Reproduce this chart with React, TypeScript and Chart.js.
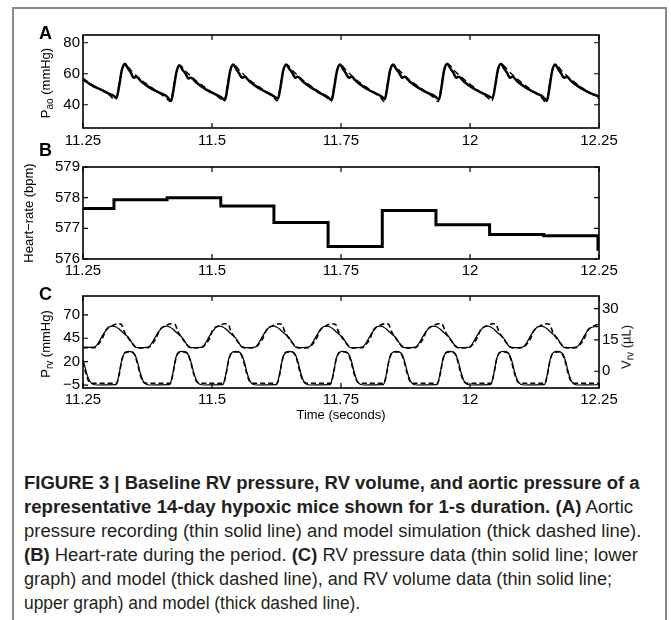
import React, { useEffect, useLayoutEffect, useRef } from 'react';
import { Chart, registerables } from 'chart.js';

Chart.register(...registerables);

const FONT = "'Liberation Sans', Arial, Helvetica, sans-serif";

// ---------------- data ----------------
const timeTicks = [11.25, 11.5, 11.75, 12, 12.25];
const timeTickLabels = ['11.25', '11.5', '11.75', '12', '12.25'];

const aoTicks = [40, 60, 80];
const aoTickLabels = ['40', '60', '80'];
const hrTicks = [576, 577, 578, 579];
const hrTickLabels = ['576', '577', '578', '579'];
const prvTicks = [-5, 20, 45, 70];
const prvTickLabels = ['\u22125', '20', '45', '70'];
const vrvTicks = [0, 15, 30];
const vrvTickLabels = ['0', '15', '30'];

// (A) aortic pressure recording [time s, mmHg]
const aorticData: [number, number][] = [
  [11.25, 56.5], [11.256, 55], [11.265, 53], [11.276, 51], [11.287, 49.5], [11.298, 47.5], [11.308, 46], [11.315, 44.5],
  [11.32, 52], [11.325, 62], [11.331, 66.5], [11.337, 63.5], [11.343, 60.5], [11.348, 57.5], [11.353, 58], [11.363, 55], [11.375, 52], [11.387, 49.5], [11.4, 47.5], [11.412, 45.5], [11.421, 42.5],
  [11.426, 51], [11.431, 61], [11.437, 65.5], [11.443, 62.5], [11.449, 60], [11.454, 57], [11.459, 57.5], [11.469, 54.5], [11.481, 51.5], [11.493, 49], [11.505, 47], [11.517, 45], [11.525, 43],
  [11.53, 51], [11.535, 61.5], [11.541, 66], [11.547, 63], [11.553, 60], [11.558, 57.5], [11.563, 58], [11.573, 55], [11.585, 52], [11.597, 49.5], [11.609, 47.5], [11.62, 45.5], [11.628, 44],
  [11.633, 52], [11.638, 62], [11.644, 66], [11.65, 63], [11.656, 60.5], [11.661, 57.5], [11.666, 58], [11.676, 55], [11.688, 52], [11.7, 49.5], [11.712, 47], [11.724, 45], [11.732, 43],
  [11.737, 51.5], [11.742, 61.5], [11.748, 66], [11.754, 63], [11.76, 60], [11.765, 57.5], [11.77, 58], [11.78, 55], [11.792, 52], [11.804, 49.5], [11.816, 47.5], [11.828, 45.5], [11.835, 43.5],
  [11.84, 52], [11.845, 62], [11.851, 66], [11.857, 63], [11.863, 60.5], [11.868, 57.5], [11.873, 58], [11.883, 55], [11.895, 52], [11.907, 49.5], [11.919, 47.5], [11.932, 45.5], [11.94, 43.5],
  [11.945, 52], [11.95, 62.5], [11.956, 66.5], [11.962, 63.5], [11.968, 60.5], [11.973, 57.5], [11.978, 58], [11.988, 55], [12.0, 52], [12.012, 49.5], [12.024, 47.5], [12.036, 45.5], [12.044, 44.5],
  [12.049, 52.5], [12.054, 62.5], [12.06, 66.5], [12.066, 63.5], [12.072, 60.5], [12.077, 57.5], [12.082, 58], [12.092, 55], [12.104, 52], [12.116, 49.5], [12.128, 47.5], [12.14, 45.5], [12.149, 42.5],
  [12.154, 51], [12.159, 61.5], [12.165, 66], [12.171, 63], [12.177, 60], [12.182, 57.5], [12.187, 58], [12.197, 55], [12.209, 52], [12.221, 49.5], [12.233, 47.5], [12.245, 46], [12.25, 45.5],
];

// (A) aortic pressure model
const aorticModel: [number, number][] = [
  [11.25, 57], [11.275, 51.5], [11.3, 46.5], [11.313, 43],
  [11.321, 55], [11.327, 64], [11.333, 65.5], [11.345, 61.5], [11.365, 55.5], [11.39, 49.5], [11.412, 44], [11.419, 42],
  [11.427, 54.5], [11.433, 63.5], [11.439, 65], [11.451, 61], [11.471, 55], [11.496, 49], [11.516, 44], [11.523, 42],
  [11.531, 55], [11.537, 64], [11.543, 65.5], [11.555, 61.5], [11.575, 55.5], [11.6, 49.5], [11.62, 44.5], [11.626, 42.5],
  [11.634, 55], [11.64, 64], [11.646, 65.5], [11.658, 61.5], [11.678, 55.5], [11.703, 49.5], [11.724, 44], [11.73, 42],
  [11.738, 55], [11.744, 64], [11.75, 65.5], [11.762, 61.5], [11.782, 55.5], [11.807, 49.5], [11.828, 44], [11.833, 42],
  [11.841, 55], [11.847, 64], [11.853, 65.5], [11.865, 61.5], [11.885, 55.5], [11.91, 49.5], [11.932, 44], [11.938, 42],
  [11.946, 55], [11.952, 64.5], [11.958, 66], [11.97, 62], [11.99, 56], [12.015, 49.5], [12.036, 44], [12.042, 42],
  [12.05, 55], [12.056, 64.5], [12.062, 66], [12.074, 62], [12.094, 56], [12.119, 49.5], [12.14, 44], [12.147, 41.5],
  [12.155, 55], [12.161, 64], [12.167, 65.5], [12.179, 61.5], [12.199, 55.5], [12.224, 49.5], [12.25, 44],
];

// (B) heart rate (bpm), value holds until the next time
const hrTimes = [11.25, 11.31, 11.413, 11.517, 11.62, 11.725, 11.83, 11.934, 12.038, 12.143, 12.248, 12.25];
const hrValues = [577.65, 577.93, 578.0, 577.73, 577.19, 576.41, 577.58, 577.12, 576.8, 576.76, 576.32, 576.32];

// (C) RV pressure data (mmHg)
const prvData: [number, number][] = [
  [11.25, 22], [11.254, 14], [11.258, 6], [11.263, -0.5], [11.269, -4], [11.278, -4.8], [11.298, -4.6],
  [11.314, -4.5], [11.318, 2], [11.322, 13], [11.326, 24], [11.331, 29.5], [11.338, 31], [11.345, 30.5], [11.351, 27], [11.356, 19], [11.361, 8], [11.366, 0], [11.372, -4], [11.38, -4.8], [11.4, -4.6],
  [11.418, -4.5], [11.422, 2], [11.426, 13.5], [11.43, 24.5], [11.435, 30], [11.442, 31], [11.449, 30.5], [11.455, 26.5], [11.46, 18.5], [11.465, 7.5], [11.47, 0], [11.476, -4], [11.484, -4.8], [11.504, -4.6],
  [11.521, -4.5], [11.525, 2], [11.529, 13], [11.533, 24], [11.538, 29.5], [11.545, 31], [11.552, 30.5], [11.558, 27], [11.563, 19], [11.568, 8], [11.573, 0], [11.579, -4], [11.587, -4.8], [11.607, -4.6],
  [11.625, -4.5], [11.629, 2], [11.633, 13], [11.637, 24], [11.642, 29.5], [11.649, 31], [11.656, 30.5], [11.662, 27], [11.667, 19], [11.672, 8], [11.677, 0], [11.683, -4], [11.691, -4.8], [11.711, -4.6],
  [11.729, -4.5], [11.733, 2], [11.737, 13], [11.741, 24], [11.746, 29.5], [11.753, 31], [11.76, 30.5], [11.766, 27], [11.771, 19], [11.776, 8], [11.781, 0], [11.787, -4], [11.795, -4.8], [11.815, -4.6],
  [11.832, -4.5], [11.836, 2], [11.84, 13], [11.844, 24], [11.849, 29.5], [11.856, 31], [11.863, 30.5], [11.869, 27], [11.874, 19], [11.879, 8], [11.884, 0], [11.89, -4], [11.898, -4.8], [11.918, -4.6],
  [11.936, -4.5], [11.94, 2], [11.944, 13], [11.948, 24], [11.953, 29.5], [11.96, 31], [11.967, 30.5], [11.973, 27], [11.978, 19], [11.983, 8], [11.988, 0], [11.994, -4], [12.002, -4.8], [12.022, -4.6],
  [12.04, -4.5], [12.044, 2], [12.048, 13], [12.052, 24], [12.057, 29.5], [12.064, 31], [12.071, 30.5], [12.077, 27], [12.082, 19], [12.087, 8], [12.092, 0], [12.098, -4], [12.106, -4.8], [12.126, -4.6],
  [12.144, -4.5], [12.148, 2], [12.152, 13], [12.156, 24], [12.161, 29.5], [12.168, 31], [12.175, 30.5], [12.181, 27], [12.186, 19], [12.191, 8], [12.196, 0], [12.202, -4], [12.21, -4.8], [12.23, -4.6], [12.25, -4.5],
];

// (C) RV pressure model (mmHg)
const prvModel: [number, number][] = [
  [11.25, 20], [11.256, 7], [11.262, -1.5], [11.27, -3], [11.3, -3],
  [11.315, -3], [11.32, 6], [11.325, 21], [11.331, 29.5], [11.34, 30.5], [11.348, 29], [11.354, 21], [11.36, 8], [11.366, -1], [11.374, -3], [11.404, -3],
  [11.419, -3], [11.424, 6], [11.429, 21], [11.435, 29.5], [11.444, 30.5], [11.452, 29], [11.458, 21], [11.464, 8], [11.47, -1], [11.478, -3], [11.508, -3],
  [11.522, -3], [11.527, 6], [11.532, 21], [11.538, 29.5], [11.547, 30.5], [11.555, 29], [11.561, 21], [11.567, 8], [11.573, -1], [11.581, -3], [11.611, -3],
  [11.626, -3], [11.631, 6], [11.636, 21], [11.642, 29.5], [11.651, 30.5], [11.659, 29], [11.665, 21], [11.671, 8], [11.677, -1], [11.685, -3], [11.715, -3],
  [11.73, -3], [11.735, 6], [11.74, 21], [11.746, 29.5], [11.755, 30.5], [11.763, 29], [11.769, 21], [11.775, 8], [11.781, -1], [11.789, -3], [11.819, -3],
  [11.833, -3], [11.838, 6], [11.843, 21], [11.849, 29.5], [11.858, 30.5], [11.866, 29], [11.872, 21], [11.878, 8], [11.884, -1], [11.892, -3], [11.922, -3],
  [11.937, -3], [11.942, 6], [11.947, 21], [11.953, 29.5], [11.962, 30.5], [11.97, 29], [11.976, 21], [11.982, 8], [11.988, -1], [11.996, -3], [12.026, -3],
  [12.041, -3], [12.046, 6], [12.051, 21], [12.057, 29.5], [12.066, 30.5], [12.074, 29], [12.08, 21], [12.086, 8], [12.092, -1], [12.1, -3], [12.13, -3],
  [12.145, -3], [12.15, 6], [12.155, 21], [12.161, 29.5], [12.17, 30.5], [12.178, 29], [12.184, 21], [12.19, 8], [12.196, -1], [12.204, -3], [12.25, -3],
];

// (C) RV volume data (uL)
const vrvData: [number, number][] = [
  [11.25, 11.4], [11.27, 11.4], [11.276, 12.3], [11.283, 15], [11.29, 18], [11.297, 20.3],
  [11.301, 21.3], [11.309, 21.6], [11.314, 21.2], [11.32, 20.2], [11.326, 18.8], [11.332, 17.5], [11.338, 16.2], [11.344, 14], [11.35, 11.8], [11.356, 11.3], [11.374, 11.4], [11.38, 12.3], [11.387, 15], [11.394, 18], [11.401, 20.3],
  [11.405, 21.3], [11.413, 21.6], [11.418, 21.2], [11.424, 20.2], [11.43, 18.8], [11.436, 17.5], [11.442, 16.2], [11.448, 14], [11.454, 11.8], [11.46, 11.3], [11.478, 11.4], [11.484, 12.3], [11.491, 15], [11.498, 18], [11.505, 20.3],
  [11.508, 21.3], [11.516, 21.6], [11.521, 21.2], [11.527, 20.2], [11.533, 18.8], [11.539, 17.5], [11.545, 16.2], [11.551, 14], [11.557, 11.8], [11.563, 11.3], [11.581, 11.4], [11.587, 12.3], [11.594, 15], [11.601, 18], [11.608, 20.3],
  [11.612, 21.3], [11.62, 21.6], [11.625, 21.2], [11.631, 20.2], [11.637, 18.8], [11.643, 17.5], [11.649, 16.2], [11.655, 14], [11.661, 11.8], [11.667, 11.3], [11.685, 11.4], [11.691, 12.3], [11.698, 15], [11.705, 18], [11.712, 20.3],
  [11.716, 21.3], [11.724, 21.6], [11.729, 21.2], [11.735, 20.2], [11.741, 18.8], [11.747, 17.5], [11.753, 16.2], [11.759, 14], [11.765, 11.8], [11.771, 11.3], [11.789, 11.4], [11.795, 12.3], [11.802, 15], [11.809, 18], [11.816, 20.3],
  [11.819, 21.3], [11.827, 21.6], [11.832, 21.2], [11.838, 20.2], [11.844, 18.8], [11.85, 17.5], [11.856, 16.2], [11.862, 14], [11.868, 11.8], [11.874, 11.3], [11.892, 11.4], [11.898, 12.3], [11.905, 15], [11.912, 18], [11.919, 20.3],
  [11.923, 21.3], [11.931, 21.6], [11.936, 21.2], [11.942, 20.2], [11.948, 18.8], [11.954, 17.5], [11.96, 16.2], [11.966, 14], [11.972, 11.8], [11.978, 11.3], [11.996, 11.4], [12.002, 12.3], [12.009, 15], [12.016, 18], [12.023, 20.3],
  [12.027, 21.3], [12.035, 21.6], [12.04, 21.2], [12.046, 20.2], [12.052, 18.8], [12.058, 17.5], [12.064, 16.2], [12.07, 14], [12.076, 11.8], [12.082, 11.3], [12.1, 11.4], [12.106, 12.3], [12.113, 15], [12.12, 18], [12.127, 20.3],
  [12.131, 21.3], [12.139, 21.6], [12.144, 21.2], [12.15, 20.2], [12.156, 18.8], [12.162, 17.5], [12.168, 16.2], [12.174, 14], [12.18, 11.8], [12.186, 11.3], [12.204, 11.4], [12.21, 12.3], [12.217, 15], [12.224, 18], [12.231, 20.3], [12.24, 21.3], [12.25, 21.4],
];

// (C) RV volume model (uL)
const vrvModel: [number, number][] = [
  [11.25, 11.3], [11.272, 11.3], [11.28, 13], [11.288, 16],
  [11.294, 19.5], [11.304, 21.5], [11.318, 22.7], [11.324, 22.5], [11.33, 19], [11.336, 16.5], [11.344, 13.8], [11.352, 11.6], [11.36, 11.2], [11.376, 11.3], [11.384, 13], [11.392, 16],
  [11.398, 19.5], [11.408, 21.5], [11.422, 22.7], [11.428, 22.5], [11.434, 19], [11.44, 16.5], [11.448, 13.8], [11.456, 11.6], [11.464, 11.2], [11.48, 11.3], [11.488, 13], [11.496, 16],
  [11.501, 19.5], [11.511, 21.5], [11.525, 22.7], [11.531, 22.5], [11.537, 19], [11.543, 16.5], [11.551, 13.8], [11.559, 11.6], [11.567, 11.2], [11.583, 11.3], [11.591, 13], [11.599, 16],
  [11.605, 19.5], [11.615, 21.5], [11.629, 22.7], [11.635, 22.5], [11.641, 19], [11.647, 16.5], [11.655, 13.8], [11.663, 11.6], [11.671, 11.2], [11.687, 11.3], [11.695, 13], [11.703, 16],
  [11.709, 19.5], [11.719, 21.5], [11.733, 22.7], [11.739, 22.5], [11.745, 19], [11.751, 16.5], [11.759, 13.8], [11.767, 11.6], [11.775, 11.2], [11.791, 11.3], [11.799, 13], [11.807, 16],
  [11.812, 19.5], [11.822, 21.5], [11.836, 22.7], [11.842, 22.5], [11.848, 19], [11.854, 16.5], [11.862, 13.8], [11.87, 11.6], [11.878, 11.2], [11.894, 11.3], [11.902, 13], [11.91, 16],
  [11.916, 19.5], [11.926, 21.5], [11.94, 22.7], [11.946, 22.5], [11.952, 19], [11.958, 16.5], [11.966, 13.8], [11.974, 11.6], [11.982, 11.2], [11.998, 11.3], [12.006, 13], [12.014, 16],
  [12.02, 19.5], [12.03, 21.5], [12.044, 22.7], [12.05, 22.5], [12.056, 19], [12.062, 16.5], [12.07, 13.8], [12.078, 11.6], [12.086, 11.2], [12.102, 11.3], [12.11, 13], [12.118, 16],
  [12.124, 19.5], [12.134, 21.5], [12.148, 22.7], [12.154, 22.5], [12.16, 19], [12.166, 16.5], [12.174, 13.8], [12.182, 11.6], [12.19, 11.2], [12.206, 11.3], [12.214, 13], [12.222, 16], [12.228, 19.5], [12.238, 21.5], [12.25, 22.5],
];

const captionLines: { b: boolean; t: string }[][] = [
  [{ b: true, t: 'FIGURE 3 | Baseline RV pressure, RV volume, and aortic pressure of a' }],
  [{ b: true, t: 'representative 14-day hypoxic mice shown for 1-s duration. (A)' }, { b: false, t: ' Aortic' }],
  [{ b: false, t: 'pressure recording (thin solid line) and model simulation (thick dashed line).' }],
  [{ b: true, t: '(B)' }, { b: false, t: ' Heart-rate during the period. ' }, { b: true, t: '(C)' }, { b: false, t: ' RV pressure data (thin solid line; lower' }],
  [{ b: false, t: 'graph) and model (thick dashed line), and RV volume data (thin solid line;' }],
  [{ b: false, t: 'upper graph) and model (thick dashed line).' }],
];
const captionWidths = [616, 609, 617, 614, 588, 336];

// ---------------- helpers ----------------
const toXY = (arr: [number, number][]) => arr.map(([x, y]) => ({ x, y }));

const boxPlugin = {
  id: 'matlabBox',
  afterDatasetsDraw(chart: any, _args: any, opts: any) {
    const { ctx, chartArea: a, scales } = chart;
    const L = 5;
    ctx.save();
    ctx.strokeStyle = '#000';
    ctx.lineWidth = 1.2;
    ctx.beginPath();
    const xs = scales.x;
    xs.ticks.forEach((t: any) => {
      const px = xs.getPixelForValue(t.value);
      ctx.moveTo(px, a.bottom); ctx.lineTo(px, a.bottom - L);
      ctx.moveTo(px, a.top); ctx.lineTo(px, a.top + L);
    });
    const ls = scales[opts.left];
    ls.ticks.forEach((t: any) => {
      const py = ls.getPixelForValue(t.value);
      ctx.moveTo(a.left, py); ctx.lineTo(a.left + L, py);
      if (opts.mirror) { ctx.moveTo(a.right, py); ctx.lineTo(a.right - L, py); }
    });
    if (opts.right) {
      const rs = scales[opts.right];
      rs.ticks.forEach((t: any) => {
        const py = rs.getPixelForValue(t.value);
        ctx.moveTo(a.right, py); ctx.lineTo(a.right - L, py);
      });
    }
    ctx.stroke();
    ctx.lineWidth = 1.6;
    ctx.strokeRect(a.left, a.top, a.right - a.left, a.bottom - a.top);
    ctx.restore();
  },
};

const tickFont = { family: FONT, size: 15 };

function xAxis(padding: number) {
  return {
    type: 'linear',
    min: 11.25,
    max: 12.25,
    afterBuildTicks: (s: any) => { s.ticks = timeTicks.map((v) => ({ value: v })); },
    afterFit: (s: any) => { s.height = 30; },
    grid: { display: false, drawTicks: false },
    border: { display: false },
    ticks: {
      padding,
      font: tickFont,
      color: '#000',
      maxRotation: 0,
      autoSkip: false,
      callback: (v: number) => timeTickLabels[timeTicks.indexOf(v)] ?? '',
    },
  };
}

function yAxis(min: number, max: number, ticks: number[], labels: string[], position: string, width: number) {
  return {
    type: 'linear',
    position,
    min,
    max,
    afterBuildTicks: (s: any) => { s.ticks = ticks.map((v) => ({ value: v })); },
    afterFit: (s: any) => { s.width = width; },
    grid: { display: false, drawTicks: false },
    border: { display: false },
    ticks: {
      padding: 3,
      font: tickFont,
      color: '#000',
      autoSkip: false,
      callback: (v: number) => labels[ticks.indexOf(v)] ?? '',
    },
  };
}

function baseOptions(scales: any, box: any, padRight: number) {
  return {
    animation: false,
    responsive: false,
    maintainAspectRatio: false,
    devicePixelRatio: 1,
    layout: { padding: { top: 15, left: 0, right: padRight, bottom: 0 } },
    plugins: { legend: { display: false }, tooltip: { enabled: false }, matlabBox: box },
    elements: { point: { radius: 0 } },
    scales,
  };
}

function useChart(ref: React.RefObject<HTMLCanvasElement>, build: () => any) {
  useEffect(() => {
    if (!ref.current) return;
    const chart = new Chart(ref.current, build());
    return () => chart.destroy();
  }, []);
}

const Caption: React.FC = () => {
  const refs = useRef<(HTMLSpanElement | null)[]>([]);
  useLayoutEffect(() => {
    refs.current.forEach((el, i) => {
      if (!el) return;
      const w = el.offsetWidth;
      if (w > 0) el.style.transform = `scaleX(${captionWidths[i] / w})`;
    });
  }, []);
  return (
    <>
      {captionLines.map((line, i) => (
        <div
          key={i}
          style={{ position: 'absolute', left: 24, top: 471 + i * 24, height: 24, lineHeight: '24px', whiteSpace: 'pre' }}
        >
          <span
            ref={(el) => { refs.current[i] = el; }}
            style={{ display: 'inline-block', transformOrigin: '0 50%', fontFamily: FONT, fontSize: 18, color: '#231f20' }}
          >
            {line.map((seg, j) => (
              <span key={j} style={{ fontWeight: seg.b ? 700 : 400 }}>{seg.t}</span>
            ))}
          </span>
        </div>
      ))}
    </>
  );
};

const RotLabel: React.FC<{ cx: number; cy: number; children: React.ReactNode }> = ({ cx, cy, children }) => (
  <div
    style={{
      position: 'absolute', left: cx, top: cy, transform: 'translate(-50%, -50%) rotate(-90deg)',
      whiteSpace: 'nowrap', fontFamily: FONT, fontSize: 13, color: '#000', lineHeight: '15px',
    }}
  >
    {children}
  </div>
);

const subStyle: React.CSSProperties = { fontSize: 10, verticalAlign: '-3px' };

const PanelLetter: React.FC<{ top: number; text: string }> = ({ top, text }) => (
  <div style={{ position: 'absolute', left: 39, top, fontFamily: FONT, fontWeight: 700, fontSize: 18, lineHeight: '18px', color: '#000' }}>
    {text}
  </div>
);

export default function App() {
  const refA = useRef<HTMLCanvasElement>(null);
  const refB = useRef<HTMLCanvasElement>(null);
  const refC = useRef<HTMLCanvasElement>(null);

  useChart(refA, () => ({
    type: 'line',
    data: {
      datasets: [
        { data: toXY(aorticData), borderColor: '#000', borderWidth: 2.5, cubicInterpolationMode: 'monotone', fill: false },
        { data: toXY(aorticModel), borderColor: '#000', borderWidth: 1.4, borderDash: [6, 4], cubicInterpolationMode: 'monotone', fill: false },
      ],
    },
    options: baseOptions({ x: xAxis(4), y: yAxis(25, 85, aoTicks, aoTickLabels, 'left', 83) }, { left: 'y', mirror: true }, 72),
    plugins: [boxPlugin],
  }));

  useChart(refB, () => ({
    type: 'line',
    data: {
      datasets: [
        { data: hrTimes.map((t, i) => ({ x: t, y: hrValues[i] })), borderColor: '#000', borderWidth: 3, stepped: 'before', fill: false },
      ],
    },
    options: baseOptions({ x: xAxis(3), y: yAxis(576, 579, hrTicks, hrTickLabels, 'left', 83) }, { left: 'y', mirror: true }, 72),
    plugins: [boxPlugin],
  }));

  useChart(refC, () => ({
    type: 'line',
    data: {
      datasets: [
        { data: toXY(prvData), yAxisID: 'y', borderColor: '#000', borderWidth: 1.2, cubicInterpolationMode: 'monotone', fill: false },
        { data: toXY(prvModel), yAxisID: 'y', borderColor: '#000', borderWidth: 1.6, borderDash: [5, 3], cubicInterpolationMode: 'monotone', fill: false },
        { data: toXY(vrvData), yAxisID: 'y2', borderColor: '#000', borderWidth: 1.2, cubicInterpolationMode: 'monotone', fill: false },
        { data: toXY(vrvModel), yAxisID: 'y2', borderColor: '#000', borderWidth: 1.6, borderDash: [5, 3], cubicInterpolationMode: 'monotone', fill: false },
      ],
    },
    options: baseOptions(
      {
        x: xAxis(3),
        y: yAxis(-8, 90, prvTicks, prvTickLabels, 'left', 83),
        y2: yAxis(-8, 36, vrvTicks, vrvTickLabels, 'right', 30),
      },
      { left: 'y', right: 'y2', mirror: false },
      42,
    ),
    plugins: [boxPlugin],
  }));

  return (
    <div style={{ position: 'absolute', left: 0, top: 0, width: 671, height: 620, overflow: 'hidden', background: '#fff' }}>
      <div style={{ position: 'absolute', left: 12, top: 7, width: 655, height: 700, boxSizing: 'border-box', border: '2px solid #8a8a8a' }} />
      <canvas ref={refA} width={671} height={138} style={{ position: 'absolute', left: 0, top: 20, width: 671, height: 138 }} />
      <canvas ref={refB} width={671} height={137} style={{ position: 'absolute', left: 0, top: 152, width: 671, height: 137 }} />
      <canvas ref={refC} width={671} height={137} style={{ position: 'absolute', left: 0, top: 281, width: 671, height: 137 }} />

      <PanelLetter top={24} text="A" />
      <PanelLetter top={141} text="B" />
      <PanelLetter top={285} text="C" />

      <RotLabel cx={47} cy={83}>P<span style={subStyle}>ao</span> (mmHg)</RotLabel>
      <RotLabel cx={28} cy={213}>Heart{'\u2212'}rate (bpm)</RotLabel>
      <RotLabel cx={47} cy={344}>P<span style={subStyle}>rv</span> (mmHg)</RotLabel>
      <RotLabel cx={628} cy={347}>V<span style={subStyle}>rv</span> ({'\u00b5'}L)</RotLabel>

      <div style={{ position: 'absolute', left: 341, top: 414, transform: 'translate(-50%, -50%)', whiteSpace: 'nowrap', fontFamily: FONT, fontSize: 13, color: '#000' }}>
        Time (seconds)
      </div>

      <Caption />
    </div>
  );
}
